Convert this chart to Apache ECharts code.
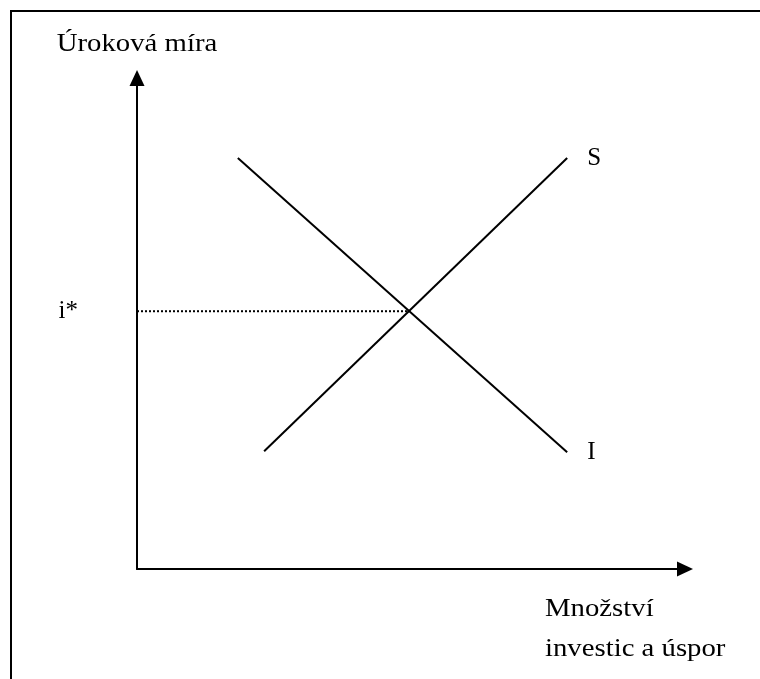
<!DOCTYPE html>
<html><head><meta charset="utf-8">
<script src="https://cdn.jsdelivr.net/npm/echarts@6/dist/echarts.min.js"></script>
<style>html,body{margin:0;padding:0;background:#fff}#c{width:760px;height:679px}</style>
</head><body><div id="c"></div>
<script>
// Data (axis units 0..100)
const investX = [18.4, 78.5];
const investY = [83.7, 23.8];
const saveX = [23.2, 78.5];
const saveY = [24.0, 83.7];
const eqQuantity = 49.6;
const eqRate = 52.5;
const yTitle = 'Úroková míra';
const xTitle = ['Množství', 'investic a úspor'];
const rateLabel = 'i*';
const investLabel = 'I';
const saveLabel = 'S';

const FONT_FAMILY = '"Liberation Serif", "Times New Roman", serif';
const chart = echarts.init(document.getElementById('c'), null, {renderer: 'canvas'});

function seriesPoints(xs, ys, lbl, lastLabel) {
  return xs.map((x, i) => {
    const isLabelled = lastLabel ? i === xs.length - 1 : i === 0;
    return isLabelled ? {value: [x, ys[i]], label: {show: true, formatter: lbl}} : {value: [x, ys[i]]};
  });
}

const axisCommon = {
  type: 'value', min: 0, max: 100,
  axisLine: {show: true, symbol: ['none', 'triangle'], symbolSize: [15, 16],
    lineStyle: {color: '#000', width: 2}},
  axisTick: {show: false}, axisLabel: {show: false}, splitLine: {show: false}
};

const labelStyle = {color: '#000', fontFamily: FONT_FAMILY, fontSize: 25};

chart.setOption({
  animation: false,
  backgroundColor: '#fff',
  grid: {left: 137, top: 78, width: 548, height: 491},
  xAxis: Object.assign({}, axisCommon),
  yAxis: Object.assign({}, axisCommon),
  series: [
    {
      type: 'line', name: 'I', data: seriesPoints(investX, investY, investLabel, true),
      symbol: 'circle', symbolSize: 0, showSymbol: true,
      lineStyle: {color: '#000', width: 2},
      label: Object.assign({position: 'right', distance: 20}, labelStyle)
    },
    {
      type: 'line', name: 'S', data: seriesPoints(saveX, saveY, saveLabel, true),
      symbol: 'circle', symbolSize: 0, showSymbol: true,
      lineStyle: {color: '#000', width: 2},
      label: Object.assign({position: 'right', distance: 20}, labelStyle)
    },
    {
      type: 'line', name: 'eq', data: seriesPoints([0, eqQuantity], [eqRate, eqRate], rateLabel, false),
      symbol: 'circle', symbolSize: 0, showSymbol: true,
      lineStyle: {color: '#000', width: 2, type: [2, 2]},
      label: Object.assign({position: 'left', distance: 59}, labelStyle)
    }
  ]
});

const origin = chart.convertToPixel({gridIndex: 0}, [0, 0]);
const topPt = chart.convertToPixel({gridIndex: 0}, [0, 100]);
const font = '25px ' + FONT_FAMILY;

chart.setOption({
  graphic: [
    {type: 'rect', shape: {x: 11, y: 11, width: 900, height: 900},
      style: {fill: 'none', stroke: '#000', lineWidth: 2}, silent: true},
    {type: 'text', x: origin[0], y: topPt[1] - 34, scaleX: 1.15,
      style: {text: yTitle, font: font, fill: '#000', textAlign: 'center', textVerticalAlign: 'middle'}},
    {type: 'text', x: 545, y: origin[1] + 40, scaleX: 1.15,
      style: {text: xTitle[0], font: font, fill: '#000', textAlign: 'left', textVerticalAlign: 'middle'}},
    {type: 'text', x: 545, y: origin[1] + 80, scaleX: 1.15,
      style: {text: xTitle[1], font: font, fill: '#000', textAlign: 'left', textVerticalAlign: 'middle'}}
  ]
});
</script>
</body></html>
